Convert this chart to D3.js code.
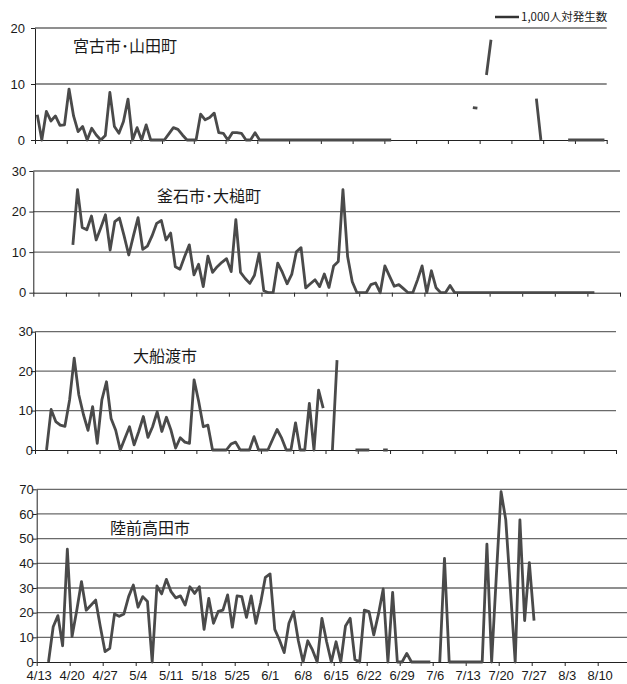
<!DOCTYPE html>
<html>
<head>
<meta charset="utf-8">
<script src="https://cdn.jsdelivr.net/npm/d3@7"></script>
<style>
  body { margin: 0; background: #fff; }
  svg { display: block; }
  .axis text { font-family: "Liberation Sans", Arial, sans-serif; font-size: 13px; fill: #1a1a1a; }
  .axis path, .axis line { stroke: #222; stroke-width: 1; }
  .grid { stroke: #6a6a6a; stroke-width: 1.3; }
  .series { fill: none; stroke: #4a4a4a; stroke-width: 2.8; stroke-linejoin: round; }
  .title { font-family: "Noto Sans CJK JP", sans-serif; font-size: 16px; fill: #1a1a1a; }
  .legend { font-family: "Noto Sans CJK JP", sans-serif; font-size: 11.5px; fill: #1a1a1a; }
</style>
</head>
<body>
<svg width="627" height="684"></svg>
<script>
// daily values from 4/13 (126 days), cases per 1,000 people
const weekLabels = ["4/13","4/20","4/27","5/4","5/11","5/18","5/25","6/1","6/8",
  "6/15","6/22","6/29","7/6","7/13","7/20","7/27","8/3","8/10"];

const miyakoYamada = [
  4.5, 0, 5.1, 3.4, 4.3, 2.6, 2.7, 9.1, 4.3, 1.5,
  2.4, 0, 2.1, 0.9, 0, 0.8, 8.5, 2.4, 1.2, 3.3,
  7.3, 0, 2.2, 0, 2.7, 0, 0, 0, 0, 1.1,
  2.2, 1.9, 0.9, 0, 0, 0, 4.6, 3.6, 4.0, 4.8,
  1.3, 1.2, 0, 1.3, 1.3, 1.2, 0, 0, 1.3, 0,
  0, 0, 0, 0, 0, 0, 0, 0, 0, 0,
  0, 0, 0, 0, 0, 0, 0, 0, 0, 0,
  0, 0, 0, 0, 0, 0, 0, 0, 0, null,
  null, null, null, null, null, null, null, null, null, null,
  null, null, null, null, null, null, 5.8, 5.7, null, 11.6,
  17.9, null, null, null, null, null, null, null, null, null,
  7.4, 0, null, null, null, null, null, 0, 0, 0,
  0, 0, 0, 0, 0, 0];

const kamaishiOtsuchi = [
  null, null, null, null, null, null, null, null, 11.8, 25.4,
  16.1, 15.5, 18.9, 13, 16, 19.2, 10.5, 17.5, 18.4, 14,
  9.3, 14, 18.5, 10.7, 11.5, 14, 17.1, 17.8, 13, 14.7,
  6.4, 5.8, 8.9, 11.8, 4.4, 7, 1.5, 9, 5, 6.4,
  7.5, 8.4, 5.2, 18, 5, 3.5, 2.3, 4.3, 9.7, 0.5,
  0, 0, 7.3, 5, 2.2, 4.5, 10.1, 11.1, 1.2, 2.2,
  3.2, 1.5, 4.6, 1.3, 6.6, 7.7, 25.4, 8.9, 2.7, 0,
  0, 0, 2.0, 2.4, 0, 6.6, 4.1, 1.6, 2.0, 1.0,
  0, 0, 3.1, 6.6, 0, 5.4, 1.2, 0, 0, 1.8,
  0, 0, 0, 0, 0, 0, 0, 0, 0, 0,
  0, 0, 0, 0, 0, 0, 0, 0, 0, 0,
  0, 0, 0, 0, 0, 0, 0, 0, 0, 0,
  0, null, null, null, null, null];

const ofunato = [
  null, null, 0, 10.3, 7.2, 6.3, 6, 12.7, 23.3, 14,
  9, 5, 11, 1.7, 12.7, 17.3, 8, 5, 0, 3,
  5.9, 1.3, 4.7, 8.5, 3.2, 5.9, 9.7, 4.7, 8.3, 5,
  0.5, 3.1, 2, 1.7, 17.8, 12.3, 5.9, 6.3, 0, 0,
  0, 0, 1.5, 2.0, 0, 0, 0, 3.4, 0, 0,
  0, 2.6, 5.2, 3, 0, 0, 6.9, 0, 0, 11.8,
  0, 15.2, 10.6, null, 0, 22.8, null, null, null, 0,
  0, 0, 0, null, null, 0, 0, null, null, null,
  null, null, null, null, null, null, null, null, null, null,
  null, null, null, null, null, null, null, null, null, null,
  null, null, null, null, null, null, null, null, null, null,
  null, null, null, null, null, null, null, null, null, null,
  null, null, null, null, null, null];

const rikuzentakata = [
  null, null, 0, 14.3, 18.8, 6.6, 45.7, 10.3, 21, 32.6,
  21, 23, 25.1, 14.3, 4.2, 5.5, 19.5, 18.5, 19.5, 26.5,
  31.2, 22.2, 26.5, 24.5, 0, 30.8, 27.6, 33.5, 28.5, 26,
  26.8, 23.1, 30.5, 27.8, 30.5, 13.2, 25.8, 15.7, 20.5, 21,
  27.2, 14.1, 26.8, 26.5, 18.1, 26.8, 15.7, 24, 34.3, 35.7,
  13.2, 8.9, 3.8, 15.7, 20.4, 8.6, 0, 8.6, 4.9, 0,
  17.7, 8.2, 0, 8.2, 0, 14.6, 17.7, 1, 0, 21,
  20.4, 11, 19.5, 29.6, 0, 28.2, 0, 0, 3.5, 0,
  0, 0, 0, 0, null, 0, 42, 0, 0, 0,
  0, 0, 0, 0, 0, 47.8, 0, 35, 69, 57.6,
  29, 0, 57.6, 16.8, 40.3, 16.8, null, null, null, null,
  null, null, null, null, null, null, null, null, null, null,
  null, null, null, null, null, null];

const panelNames = ["宮古市･山田町", "釜石市･大槌町", "大船渡市", "陸前高田市"];
const panelMax = [20, 30, 30, 70];
const panelSeries = [miyakoYamada, kamaishiOtsuchi, ofunato, rikuzentakata];

// placement of each scanned panel on the page
const layout = [
  {left: 35,   right: 606.7, top: 28,    bottom: 140,   gap: 6,  tx: 73,  ty: 52},
  {left: 33.3, right: 620,   top: 171,   bottom: 292.7, gap: 3,  tx: 157, ty: 202},
  {left: 35,   right: 616,   top: 331.7, bottom: 450,   gap: -2, tx: 133, ty: 362},
  {left: 36.7, right: 630.7, top: 489.3, bottom: 662,   gap: -1, tx: 110, ty: 534}
];

const svg = d3.select("svg");
const days = miyakoYamada.length;

panelNames.forEach(function(name, k) {
  const L = layout[k],
      values = panelSeries[k],
      g = svg.append("g");

  const xScale = d3.scaleLinear().domain([0, days]).range([L.left, L.right]),
      yScale = d3.scaleLinear().domain([0, panelMax[k]]).range([L.bottom, L.top]);

  const yTicks = d3.range(0, panelMax[k] + 1, 10);

  // horizontal gridlines
  g.selectAll(".grid")
    .data(yTicks.slice(1))
    .enter().append("line")
      .attr("class", "grid")
      .attr("x1", L.left)
      .attr("x2", L.right)
      .attr("y1", function(d) { return yScale(d); })
      .attr("y2", function(d) { return yScale(d); });

  // axes
  g.append("g")
      .attr("class", "axis")
      .attr("transform", "translate(" + L.left + ",0)")
      .call(d3.axisLeft(yScale).tickValues(yTicks).tickSizeInner(4).tickSizeOuter(0).tickPadding(L.gap));

  const isLast = k === panelNames.length - 1;
  const xAxis = g.append("g")
      .attr("class", "axis")
      .attr("transform", "translate(0," + L.bottom + ")")
      .call(d3.axisBottom(xScale)
        .tickValues(d3.range(0, days + 1, 7))
        .tickSizeInner(4).tickSizeOuter(0).tickPadding(5)
        .tickFormat(function(d, i) { return isLast ? (weekLabels[i] || "") : ""; }));
  xAxis.selectAll("text").attr("dx", 2);

  // series line, gaps where no data
  const line = d3.line()
      .defined(function(d) { return d != null; })
      .x(function(d, i) { return xScale(i + 0.5); })
      .y(function(d) { return yScale(d); });

  g.append("path")
      .attr("class", "series")
      .attr("d", line(values));

  g.append("text")
      .attr("class", "title")
      .attr("x", L.tx)
      .attr("y", L.ty)
      .text(name);
});

// legend
svg.append("line")
    .attr("x1", 495).attr("x2", 519)
    .attr("y1", 17).attr("y2", 17)
    .attr("stroke", "#333")
    .attr("stroke-width", 2.5);

svg.append("text")
    .attr("class", "legend")
    .attr("x", 521)
    .attr("y", 21)
    .text("1,000人対発生数");
</script>
</body>
</html>
